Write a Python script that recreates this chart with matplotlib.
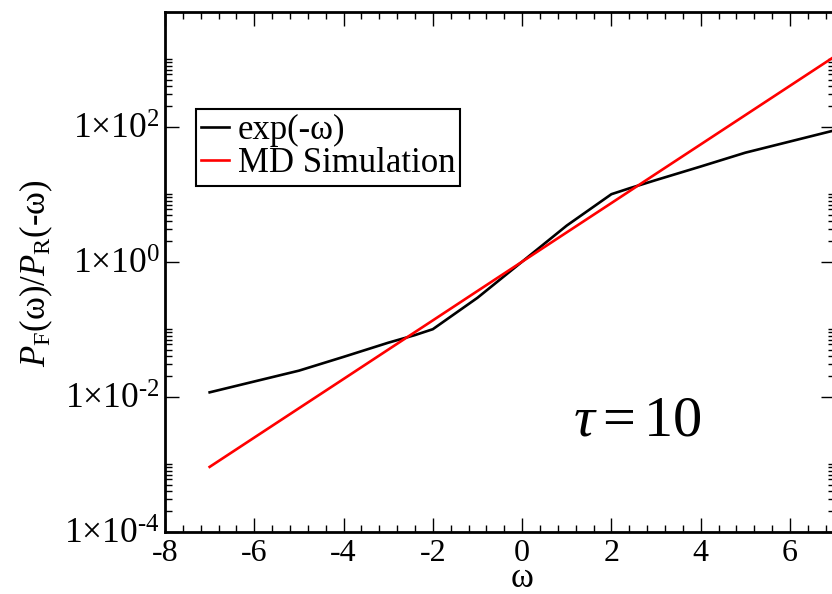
import math
import matplotlib
matplotlib.use('Agg')
import matplotlib.pyplot as plt
from matplotlib.ticker import FixedLocator, MultipleLocator, FuncFormatter, NullFormatter

plt.rcParams['font.family'] = 'Liberation Serif'
plt.rcParams['mathtext.fontset'] = 'custom'
plt.rcParams['mathtext.rm'] = 'Liberation Serif'
plt.rcParams['mathtext.it'] = 'Liberation Serif:italic'

# black curve, labelled exp(-w)
w_exp = [-7, -6, -5, -4, -3, -2.4, -2, -1, 0, 1, 2, 2.4, 3, 4, 5, 6, 7]
ratio_exp = [0.0116, 0.0168, 0.0243, 0.0389, 0.063, 0.0818, 0.1, 0.292, 1.0,
             3.43, 10.0, 12.2, 16.2, 25.7, 41.2, 60.3, 88.3]

# red curve, labelled MD Simulation
w_md = [-7, -6, -5, -4, -3, -2, -1, 0, 1, 2, 3, 4, 5, 6, 7]
ratio_md = [0.000912, 0.00248, 0.00674, 0.0183, 0.0498, 0.135, 0.368, 1.0,
            2.72, 7.39, 20.1, 54.6, 148.4, 403.4, 1096.6]


def sci_label(v, pos):
    e = round(math.log10(v))
    exp_txt = ('‐%d' % -e) if e < 0 else '%d' % e
    return r'$1{\times}10^{%s}$' % exp_txt


fig = plt.figure(figsize=(8.32, 5.94), dpi=100)
ax = fig.add_axes([165 / 832, 62.3 / 594, 669.6 / 832, 519.7 / 594])

ax.plot(w_exp, ratio_exp, color='black', lw=1.9, label='exp(-ω)')
ax.plot(w_md, ratio_md, color='#ff0000', lw=1.9, label='MD Simulation')

ax.set_yscale('log')
ax.set_xlim(-8, 7)
ax.set_ylim(1e-4, 5e3)

ax.xaxis.set_major_locator(MultipleLocator(2))
ax.xaxis.set_minor_locator(MultipleLocator(0.4))
ax.yaxis.set_major_locator(FixedLocator([1e-4, 1e-2, 1e0, 1e2]))
ax.yaxis.set_minor_locator(FixedLocator([m * 10.0 ** k for k in (-4, -2, 0, 2) for m in range(2, 11)]))
ax.yaxis.set_major_formatter(FuncFormatter(sci_label))
ax.yaxis.set_minor_formatter(NullFormatter())
ax.xaxis.set_major_formatter(FuncFormatter(lambda v, p: '%d' % v))

for s in ax.spines.values():
    s.set_linewidth(2)
ax.tick_params(which='both', direction='in', top=True, right=True, width=1)
ax.tick_params(which='major', length=10)
ax.tick_params(which='minor', length=5)
ax.tick_params(axis='x', labelsize=23, pad=5)
ax.tick_params(axis='y', labelsize=25.5, pad=4)

ax.set_xlabel('ω', fontsize=25)
ax.xaxis.set_label_coords(0.533, -0.058)
fig.text(36 / 832, 1 - 273 / 594, r'$P_{\mathrm{F}}(\mathrm{ω})/P_{\mathrm{R}}(‐\mathrm{ω})$',
         fontsize=25, rotation=90, ha='center', va='center')

ax.text(0.706, 0.186, r'$\tau = 10$', transform=ax.transAxes, fontsize=42,
        ha='center', va='baseline')

leg = ax.legend(loc='upper left', bbox_to_anchor=(0.0463, 0.813), borderaxespad=0,
                fontsize=25, fancybox=False, framealpha=1, edgecolor='black',
                handlelength=0.8, handletextpad=0.25, borderpad=0.15, labelspacing=0.0)
leg.get_frame().set_linewidth(1.5)

fig.savefig('out.png', dpi=100)
